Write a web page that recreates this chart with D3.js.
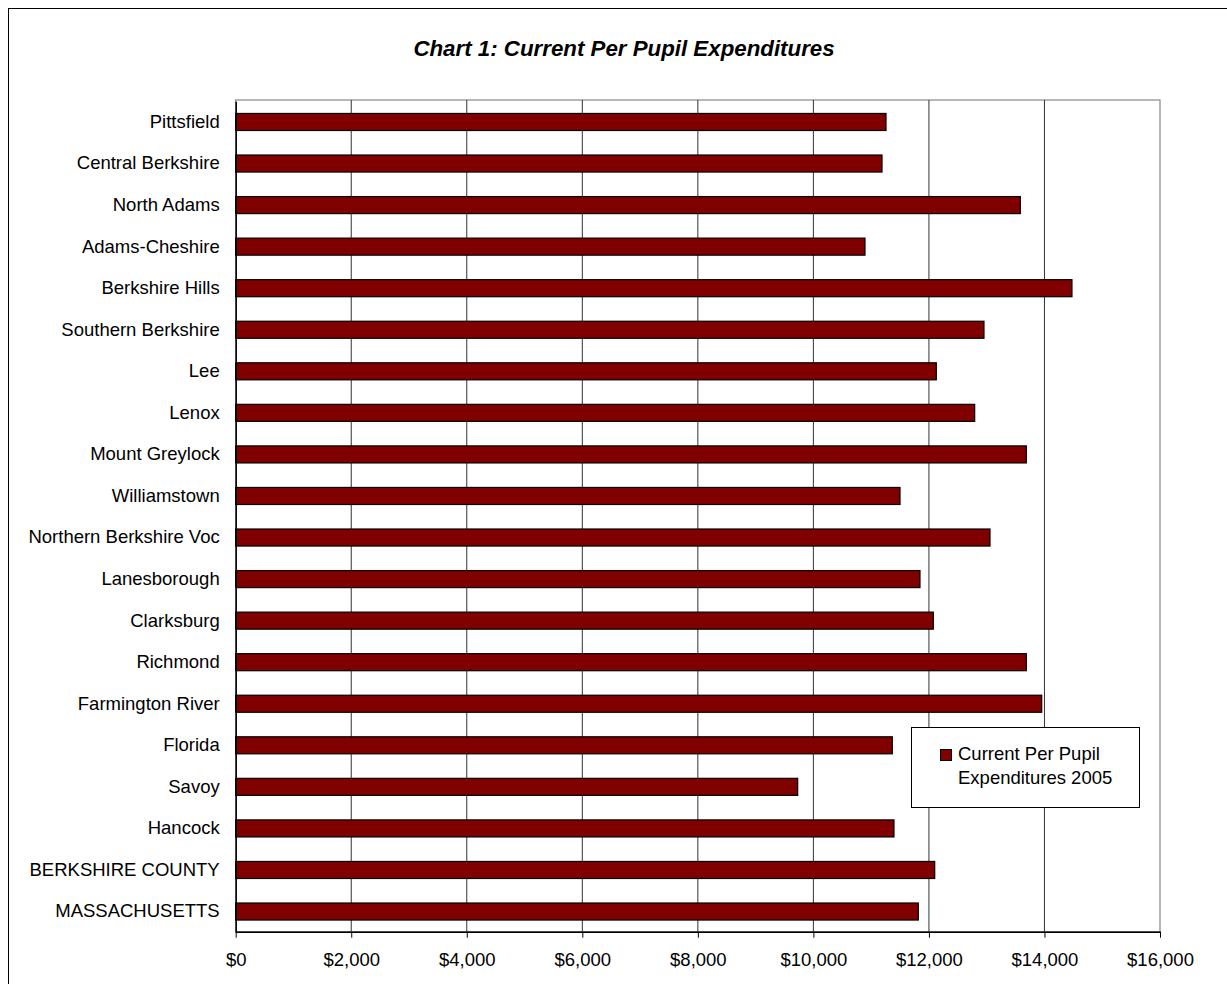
<!DOCTYPE html>
<html>
<head>
<meta charset="utf-8">
<script src="https://cdn.jsdelivr.net/npm/d3@7"></script>
<style>
  html, body { margin: 0; padding: 0; background: #fff; }
  svg { display: block; font-family: "Liberation Sans", Arial, sans-serif; }
</style>
</head>
<body>
<svg id="chart" width="1227" height="984"></svg>
<script>
const categories = [
  "Pittsfield", "Central Berkshire", "North Adams", "Adams-Cheshire",
  "Berkshire Hills", "Southern Berkshire", "Lee", "Lenox",
  "Mount Greylock", "Williamstown", "Northern Berkshire Voc", "Lanesborough",
  "Clarksburg", "Richmond", "Farmington River", "Florida",
  "Savoy", "Hancock", "BERKSHIRE COUNTY", "MASSACHUSETTS"
];
const expenditures2005 = [
  11257, 11188, 13582, 10893,
  14476, 12953, 12128, 12792,
  13686, 11499, 13057, 11845,
  12076, 13686, 13952, 11366,
  9728, 11395, 12100, 11816
];
const tickValues = [0, 2000, 4000, 6000, 8000, 10000, 12000, 14000, 16000];
const seriesName = ["Current Per Pupil", "Expenditures 2005"];
const chartTitle = "Chart 1: Current Per Pupil Expenditures";

const svg = d3.select("#chart");
const plot = { left: 235.7, right: 1160, top: 100, bottom: 931.7 };

// outer frame (left & top visible)
svg.append("rect")
  .attr("x", 8.5).attr("y", 8.5)
  .attr("width", 1400).attr("height", 1200)
  .attr("fill", "none").attr("stroke", "#000").attr("stroke-width", 1);

const x = d3.scaleLinear().domain([0, 16000]).range([plot.left, plot.right]);
const y = d3.scaleBand().domain(categories).range([plot.top + 1.2, plot.bottom + 0.6])
  .paddingInner(0.59).paddingOuter(0.295);

// title
svg.append("text")
  .attr("x", 624).attr("y", 56)
  .attr("text-anchor", "middle")
  .attr("font-size", 22.3).attr("font-weight", "bold").attr("font-style", "italic")
  .attr("fill", "#000")
  .text(chartTitle);

// plot border
svg.append("rect")
  .attr("x", plot.left).attr("y", plot.top)
  .attr("width", plot.right - plot.left).attr("height", plot.bottom - plot.top)
  .attr("fill", "#fff").attr("stroke", "#888").attr("stroke-width", 1.2);

// gridlines
svg.append("g").selectAll("line")
  .data(tickValues.filter(d => d > 0 && d < 16000))
  .join("line")
  .attr("x1", d => x(d)).attr("x2", d => x(d))
  .attr("y1", plot.top).attr("y2", plot.bottom)
  .attr("stroke", "#333").attr("stroke-width", 1);

// bars
svg.append("g").selectAll("rect")
  .data(categories.map((c, i) => ({ c, v: expenditures2005[i] })))
  .join("rect")
  .attr("x", x(0))
  .attr("y", d => y(d.c))
  .attr("width", d => x(d.v) - x(0))
  .attr("height", y.bandwidth())
  .attr("fill", "#800000")
  .attr("stroke", "#000").attr("stroke-width", 1.2);

// x axis
const xAxis = svg.append("g")
  .attr("transform", `translate(0,${plot.bottom})`)
  .call(d3.axisBottom(x).tickValues(tickValues)
    .tickFormat(d => "$" + d3.format(",")(d))
    .tickSize(6).tickSizeOuter(0).tickPadding(15));
xAxis.select(".domain").attr("stroke", "#000").attr("stroke-width", 1.5);
xAxis.selectAll(".tick line").attr("stroke", "#000");
xAxis.selectAll("text").attr("font-size", 18.5).attr("fill", "#000")
  .attr("font-family", "'Liberation Sans', Arial, sans-serif");

// y axis
const yAxis = svg.append("g")
  .attr("transform", `translate(${plot.left},0)`)
  .call(d3.axisLeft(y).tickSize(0).tickPadding(16));
yAxis.select(".domain").attr("stroke", "#000").attr("stroke-width", 1.5);
yAxis.selectAll("text").attr("font-size", 18.5).attr("fill", "#000")
  .attr("font-family", "'Liberation Sans', Arial, sans-serif");

// legend
const lg = svg.append("g");
lg.append("rect")
  .attr("x", 911.5).attr("y", 727.5).attr("width", 228).attr("height", 80)
  .attr("fill", "#fff").attr("stroke", "#000").attr("stroke-width", 1);
lg.append("rect")
  .attr("x", 940.5).attr("y", 749.5).attr("width", 11).attr("height", 11)
  .attr("fill", "#800000").attr("stroke", "#000").attr("stroke-width", 1);
lg.selectAll("text.lt")
  .data(seriesName)
  .join("text")
  .attr("class", "lt")
  .attr("x", 958).attr("y", (d, i) => 760 + i * 24)
  .attr("font-size", 18.5).attr("fill", "#000")
  .text(d => d);
</script>
</body>
</html>
